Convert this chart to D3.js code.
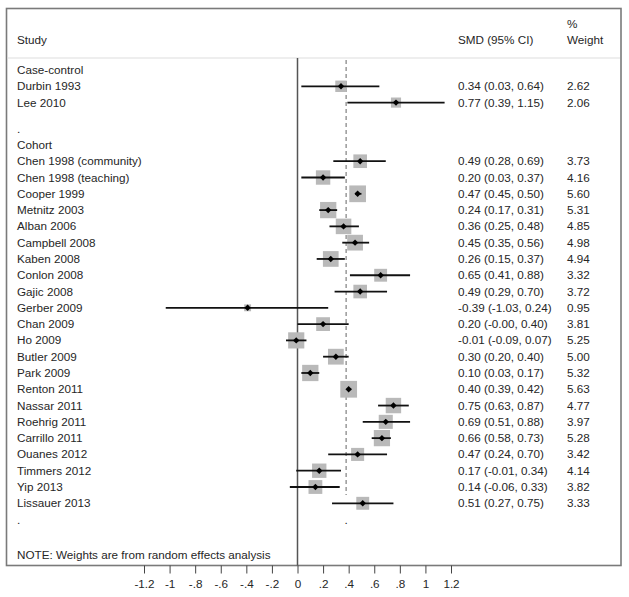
<!DOCTYPE html>
<html><head><meta charset="utf-8">
<script src="https://cdn.jsdelivr.net/npm/d3@7"></script>
<style>body{margin:0;background:#fff}svg{display:block}text{font-family:"Liberation Sans",Arial,sans-serif;font-size:11.7px;fill:#262626}</style>
</head><body><div id="chart"></div>
<script>
// ---- data ----
const caseStudies = ["Durbin 1993", "Lee 2010"];
const caseSMD     = [0.34, 0.77];
const caseLo      = [0.03, 0.39];
const caseHi      = [0.64, 1.15];
const caseWeight  = [2.62, 2.06];

const cohortStudies = ["Chen 1998 (community)","Chen 1998 (teaching)","Cooper 1999","Metnitz 2003","Alban 2006","Campbell 2008","Kaben 2008","Conlon 2008","Gajic 2008","Gerber 2009","Chan 2009","Ho 2009","Butler 2009","Park 2009","Renton 2011","Nassar 2011","Roehrig 2011","Carrillo 2011","Ouanes 2012","Timmers 2012","Yip 2013","Lissauer 2013"];
const cohortSMD    = [0.49,0.20,0.47,0.24,0.36,0.45,0.26,0.65,0.49,-0.39,0.20,-0.01,0.30,0.10,0.40,0.75,0.69,0.66,0.47,0.17,0.14,0.51];
const cohortLo     = [0.28,0.03,0.45,0.17,0.25,0.35,0.15,0.41,0.29,-1.03,-0.00,-0.09,0.20,0.03,0.39,0.63,0.51,0.58,0.24,-0.01,-0.06,0.27];
const cohortHi     = [0.69,0.37,0.50,0.31,0.48,0.56,0.37,0.88,0.70,0.24,0.40,0.07,0.40,0.17,0.42,0.87,0.88,0.73,0.70,0.34,0.33,0.75];
const cohortWeight = [3.73,4.16,5.60,5.31,4.85,4.98,4.94,3.32,3.72,0.95,3.81,5.25,5.00,5.32,5.63,4.77,3.97,5.28,3.42,4.14,3.82,3.33];

const overallEffect = 0.38;
const tickValues = [-1.2,-1,-0.8,-0.6,-0.4,-0.2,0,0.2,0.4,0.6,0.8,1,1.2];
const tickLabels = ["-1.2","-1","-.8","-.6","-.4","-.2","0",".2",".4",".6",".8","1","1.2"];
const noteText = "NOTE: Weights are from random effects analysis";

// ---- layout ----
const W = 629, H = 597;
const svg = d3.select("#chart").append("svg").attr("width", W).attr("height", H);

const x = d3.scaleLinear().domain([-1.2, 1.2]).range([144, 451]);
const y = d3.scaleLinear().domain([0, 25.6]).range([70, 487]);

const frame = {l: 6.5, r: 621, t: 8.5, b: 565.5};
const headerY = 58;

// rows
const rows = [];
rows.push({label: "Case-control", idx: 0, type: "head"});
caseStudies.forEach((s, i) => rows.push({label: s, idx: 1 + i, type: "study", smd: caseSMD[i], lo: caseLo[i], hi: caseHi[i], w: caseWeight[i]}));
rows.push({label: ".", idx: 3.6, type: "dot"});
rows.push({label: "Cohort", idx: 4.6, type: "head"});
cohortStudies.forEach((s, i) => rows.push({label: s, idx: 5.6 + i, type: "study", smd: cohortSMD[i], lo: cohortLo[i], hi: cohortHi[i], w: cohortWeight[i]}));
rows.push({label: ".", idx: 27.6, type: "dot"});

const fmt = v => ((v < 0 || Object.is(v, -0)) ? "-" : "") + Math.abs(v).toFixed(2);

// frame
svg.append("rect").attr("x", frame.l).attr("y", frame.t).attr("width", frame.r - frame.l).attr("height", frame.b - frame.t)
  .attr("fill", "none").attr("stroke", "#7a7a7a").attr("stroke-width", 1.6);
svg.append("line").attr("x1", frame.l + 1).attr("x2", frame.r - 1).attr("y1", headerY).attr("y2", headerY)
  .attr("stroke", "#dedede").attr("stroke-width", 1.2);

// header
svg.append("text").attr("x", 17).attr("y", 44).text("Study");
svg.append("text").attr("x", 458).attr("y", 44).text("SMD (95% CI)");
svg.append("text").attr("x", 567).attr("y", 28).text("%");
svg.append("text").attr("x", 567).attr("y", 44).text("Weight");

// reference lines
svg.append("line").attr("x1", x(0)).attr("x2", x(0)).attr("y1", headerY).attr("y2", frame.b)
  .attr("stroke", "#555").attr("stroke-width", 1.5);
svg.append("line").attr("x1", x(overallEffect)).attr("x2", x(overallEffect)).attr("y1", headerY + 2).attr("y2", y(25.6) + 8)
  .attr("stroke", "#666").attr("stroke-width", 1).attr("stroke-dasharray", "4,3");
svg.append("text").attr("x", x(overallEffect)).attr("y", y(27.6) + 4).attr("text-anchor", "middle").attr("fill", "#ccc").text(".");

// labels
const lab = svg.append("g");
rows.forEach(r => {
  lab.append("text").attr("x", 17).attr("y", y(r.idx) + 4).attr("fill", r.type === "dot" ? "#999" : "#262626").text(r.label);
});

// studies
const st = rows.filter(r => r.type === "study");
const g = svg.append("g");
st.forEach(r => {
  const cy = y(r.idx);
  const s = 7.06 * Math.sqrt(r.w);
  g.append("rect").attr("x", x(r.smd) - s / 2).attr("y", cy - s / 2).attr("width", s).attr("height", s).attr("fill", "#b9b9b9");
  g.append("line").attr("x1", x(r.lo)).attr("x2", x(r.hi)).attr("y1", cy).attr("y2", cy).attr("stroke", "#111").attr("stroke-width", 1.8);
  g.append("path").attr("transform", `translate(${x(r.smd)},${cy})`).attr("d", "M0,-3.2L3.2,0L0,3.2L-3.2,0Z").attr("fill", "#000");
  g.append("text").attr("x", 458).attr("y", cy + 4).text(`${fmt(r.smd)} (${fmt(r.lo)}, ${fmt(r.hi)})`);
  g.append("text").attr("x", 567).attr("y", cy + 4).text(r.w.toFixed(2));
});

// note
svg.append("text").attr("x", 17).attr("y", 559).text(noteText);

// axis
const axis = d3.axisBottom(x).tickValues(tickValues).tickSize(8).tickPadding(6)
  .tickFormat((d, i) => tickLabels[i]);
const ax = svg.append("g").attr("transform", `translate(0,${frame.b})`).call(axis);
ax.select(".domain").remove();
ax.selectAll(".tick line").attr("stroke", "#444");
ax.selectAll(".tick text").style("font-family", "Liberation Sans, Arial, sans-serif").style("font-size", "11.7px").attr("fill", "#262626");
</script></body></html>
